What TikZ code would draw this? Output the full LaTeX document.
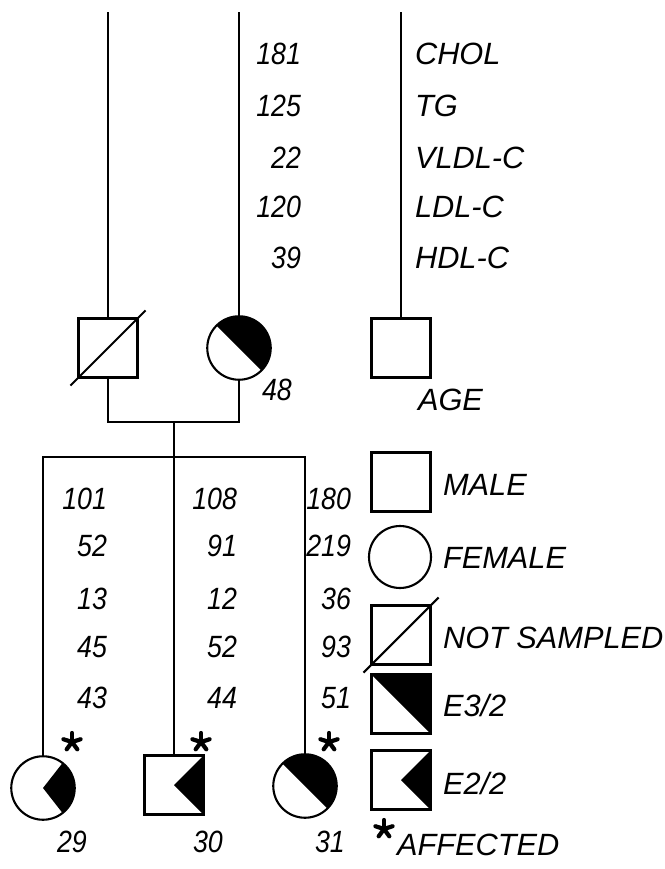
\documentclass[tikz,border=0pt]{standalone}
\usepackage{fontspec}
\setmainfont{Liberation Sans}
\newfontfamily\numfont[FakeStretch=0.87]{Liberation Sans}
\newcommand{\lettering}{\fontsize{17.5}{20}\selectfont\itshape}
\newcommand{\numbers}{\numfont\fontsize{17.5}{20}\selectfont\itshape}
\tikzset{
  affstar/.pic={
    \foreach \a in {90,162,234,306,18}
      \draw[line width=2.4pt, line cap=round] (0,0) -- (\a:0.18cm);
  }
}
\begin{document}
\begin{tikzpicture}[x=0.02cm, y=-0.02cm, line width=1.2pt,
  male/.style={draw, rectangle, minimum size=1.18cm, inner sep=0},
  female/.style={draw, circle, minimum size=1.27cm, inner sep=0},
  e32/.style={path picture={\fill (path picture bounding box.center)
    -- +(135:2cm) -- +(45:2cm) -- +(-45:2cm) -- cycle;}},
  e22/.style={path picture={\fill (path picture bounding box.center)
    -- +(#1:2cm) -- +(-#1:2cm) -- cycle;}},
  e22/.default=45,
  val/.style={anchor=east, inner sep=0, font=\numbers},
  lab/.style={anchor=west, inner sep=0, font=\lettering},
  age/.style={inner sep=0, font=\numbers}]

\useasboundingbox (0,0) rectangle (665,869);

% Parents
\node[male] (fa) at (108,348) {};
\node[female, e32] (mo) at (239,348) {};
\node[male] (key) at (401,348) {};

\draw[shorten <=-0.2cm, shorten >=-0.2cm]
(fa.south west)
--
(fa.north east);

\coordinate (top) at (0,12);
\coordinate (mar) at (0,422);
\coordinate (sib) at (0,457);

\draw (fa.north) -- (fa.north |- top);
\draw (mo.north) -- (mo.north |- top);
\draw (key.north) -- (key.north |- top);

\draw
(fa.south)
-- (fa.south |- mar)
-- (mo.south |- mar)
-- (mo.south);

% Mother's values
\node[val] (m1) at (302,54) {181};
\node[val] (m2) at (302,106) {125};
\node[val] (m3) at (302,158) {22};
\node[val] (m4) at (302,207) {120};
\node[val] (m5) at (302,258) {39};
\node[lab] (l1) at (414,54) {CHOL};
\node[lab] (l2) at (414,106) {TG};
\node[lab] (l3) at (414,158) {VLDL-C};
\node[lab] (l4) at (414,207) {LDL-C};
\node[lab] (l5) at (414,258) {HDL-C};
\node[age, anchor=west] (a48) at (261,390) {48};
\node[lab] (aage) at (417,400) {AGE};

% Children
\node[female, e22=52] (c1) at (43,788) {};
\node[male, e22] (c2) at (174,785) {};
\node[female, e32] (c3) at (305,786) {};

\draw
(c1.north)
-- (c1.north |- sib)
-- (c3.north |- sib)
-- (c3.north);
\draw (c2.north) -- (c2.north |- mar);

\node[val] (v11) at (108,499) {101};
\node[val] (v12) at (108,546) {52};
\node[val] (v13) at (108,599) {13};
\node[val] (v14) at (108,647) {45};
\node[val] (v15) at (108,698) {43};

\node[val] (v21) at (238,499) {108};
\node[val] (v22) at (238,546) {91};
\node[val] (v23) at (238,599) {12};
\node[val] (v24) at (238,647) {52};
\node[val] (v25) at (238,698) {44};

\node[val] (v31) at (352,499) {180};
\node[val] (v32) at (352,546) {219};
\node[val] (v33) at (352,599) {36};
\node[val] (v34) at (352,647) {93};
\node[val] (v35) at (352,698) {51};

\pic at (72,742) {affstar};
\pic at (201,742) {affstar};
\pic at (329,742) {affstar};

\node[age] (a29) at (72,842) {29};
\node[age] (a30) at (208,842) {30};
\node[age] (a31) at (330,842) {31};

% Legende
\node[male] (kmale) at (401,482) {};
\node[female, minimum size=1.24cm] (kfemale) at (400,557) {};
\node[male] (kns) at (401,635) {};
\node[male, e32] (k32) at (401,704) {};
\node[male, e22] (k22) at (401,780) {};

\draw[shorten <=-0.2cm, shorten >=-0.2cm]
(kns.south west)
--
(kns.north east);

\node[lab] (tmale) at (442,485) {MALE};
\node[lab] (tfemale) at (442,558) {FEMALE};
\node[lab] (tns) at (442,638) {NOT SAMPLED};
\node[lab] (t32) at (442,706) {E3/2};
\node[lab] (t22) at (442,783) {E2/2};

\pic at (384,829) {affstar};
\node[lab] (taff) at (396,845) {AFFECTED};

\end{tikzpicture}
\end{document}
